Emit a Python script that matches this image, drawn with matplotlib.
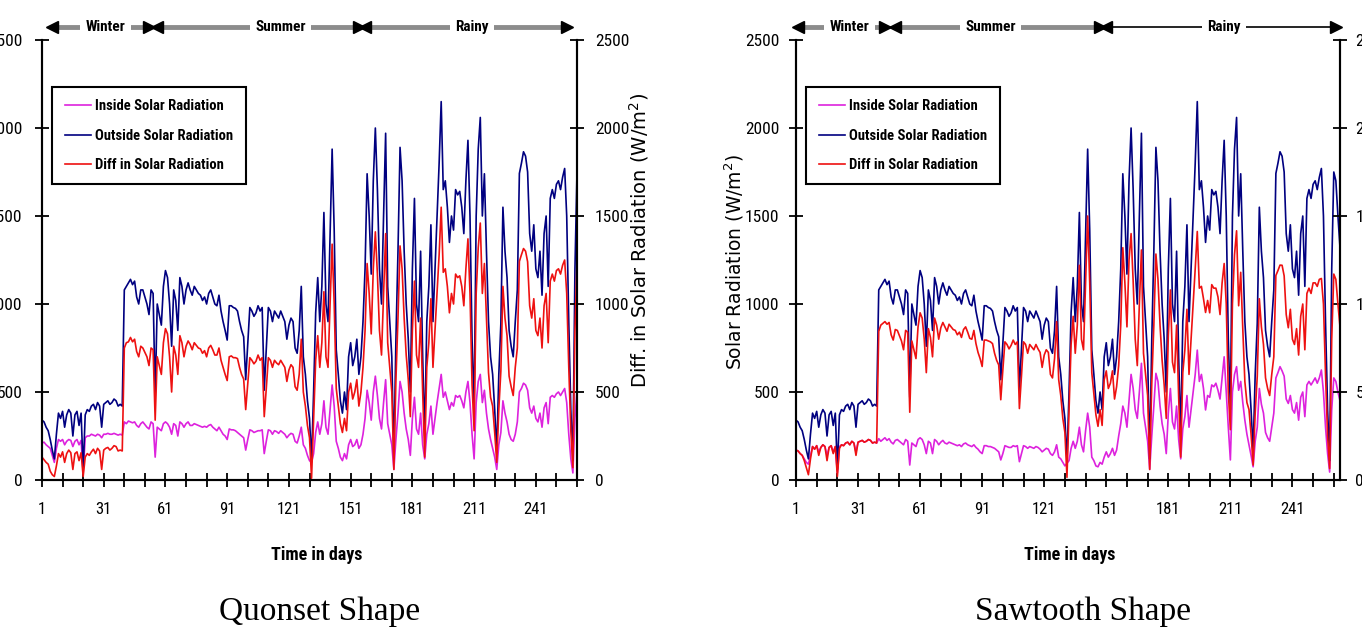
import numpy as np
import matplotlib
matplotlib.use("Agg")
import matplotlib.pyplot as plt
import matplotlib.transforms as mtransforms

plt.rcParams['font.family'] = ['Roboto Condensed', 'DejaVu Sans']

# daily outside solar radiation (W/m2), same for both shapes
outside = [
    340, 330, 300, 280, 230, 170, 120, 260, 380, 350,
    390, 300, 370, 400, 380, 250, 370, 390, 310, 380,
    60, 370, 400, 390, 420, 430, 400, 440, 420, 300,
    430, 440, 450, 430, 440, 460, 450, 420, 430, 420,
    1080, 1100, 1120, 1140, 1110, 1130, 1040, 1000, 1080, 1080,
    1040, 1000, 940, 1080, 1060, 470, 1000, 940, 880, 1100,
    1190, 1150, 1000, 760, 1080, 1020, 850, 1150, 1100, 1000,
    1080, 1120, 1080, 1050, 1100, 1080, 1060, 1050, 1020, 1040,
    1000, 1060, 1080, 1040, 1000, 990, 1050, 960, 900, 850,
    795, 990, 990, 980, 975, 960, 900, 850, 814, 570,
    776, 980, 960, 930, 950, 990, 960, 980, 510, 740,
    980, 960, 900, 960, 940, 920, 960, 930, 900, 800,
    880, 920, 900, 750, 720, 850, 1100, 700, 600, 450,
    350, 110, 500, 950, 1150, 900, 1100, 1520, 1000, 900,
    1400, 1880, 1420, 740, 600, 450, 380, 500, 400, 700,
    780, 650, 700, 800, 600, 700, 900, 1200, 1740, 1500,
    1170, 1700, 2000, 1650, 1200, 1000, 1500, 1970, 1100, 900,
    700, 120, 800, 1300, 1890, 1700, 1300, 1000, 800, 500,
    1200, 1600, 1000, 900, 1300, 700, 250, 900, 1100, 1450,
    900, 1200, 1500, 1800, 2150, 1650, 1700, 1550, 1350, 1500,
    1420, 1650, 1620, 1640, 1550, 1400, 1700, 1930, 1500, 800,
    400, 1500, 1880, 2060, 1500, 1740, 1300, 900, 700, 600,
    400, 160, 600, 890, 1550, 1300, 1150, 850, 760, 700,
    900, 1080, 1742, 1800, 1865, 1840, 1750, 1400, 1300, 1450,
    1200, 1150, 1300, 1050, 1400, 1500, 1100, 1600, 1650, 1600,
    1680, 1700, 1650, 1720, 1770, 1500, 900, 400, 110, 1200,
    1750, 1700, 1500, 1320]

# inside solar radiation, quonset shape
inside_quonset = [
    210, 215, 200, 190, 180, 140, 100, 180, 230, 220,
    230, 200, 220, 230, 225, 190, 220, 230, 200, 225,
    40, 240, 250, 250, 260, 255, 250, 260, 255, 240,
    260, 260, 265, 260, 260, 265, 260, 255, 260, 255,
    330, 320, 335, 330, 325, 330, 310, 300, 320, 330,
    315, 300, 290, 330, 320, 130, 300, 290, 280, 320,
    330, 320, 300, 260, 320, 310, 250, 330, 320, 300,
    320, 330, 310, 310, 320, 315, 310, 305, 300, 305,
    300, 310, 315, 300, 290, 280, 300, 280, 260, 250,
    230, 290, 285, 285, 280, 270, 260, 250, 240, 170,
    230, 285, 280, 270, 275, 280, 280, 285, 150, 220,
    285, 280, 260, 280, 275, 265, 280, 270, 260, 240,
    255, 265, 260, 220, 210, 250, 300, 200, 180, 140,
    110, 100, 150, 270, 330, 260, 320, 450, 300, 260,
    400, 540, 420, 220, 180, 130, 110, 150, 120, 200,
    230, 190, 200, 230, 180, 200, 260, 350, 510, 440,
    340, 500, 590, 480, 350, 290, 440, 570, 320, 260,
    200, 60, 230, 380, 560, 500, 380, 290, 230, 140,
    350, 470, 290, 260, 380, 200, 120, 260, 320, 420,
    260, 350, 440, 520, 600, 470, 500, 450, 400, 440,
    420, 480, 470, 480, 450, 410, 500, 560, 440, 260,
    120, 440, 560, 600, 440, 510, 380, 290, 230, 180,
    130, 60, 200, 270, 450, 380, 330, 260, 230, 220,
    260, 330, 500, 520, 550, 540, 510, 410, 380, 420,
    350, 330, 380, 300, 410, 440, 320, 470, 480, 470,
    490, 500, 480, 500, 520, 440, 260, 120, 40, 350,
    510, 500, 450, 400]

# inside solar radiation, sawtooth shape
inside_sawtooth = [
    170, 165, 150, 140, 120, 100, 90, 140, 190, 175,
    195, 160, 185, 200, 190, 140, 185, 195, 160, 190,
    40, 190, 200, 195, 210, 215, 200, 220, 210, 160,
    215, 220, 225, 215, 220, 230, 225, 210, 215, 210,
    235, 220, 230, 240, 225, 235, 215, 205, 225, 230,
    220, 210, 200, 230, 220, 85, 210, 200, 190, 230,
    240, 230, 200, 150, 220, 210, 150, 230, 220, 200,
    215, 225, 210, 205, 215, 210, 205, 200, 195, 200,
    190, 205, 210, 200, 195, 190, 200, 185, 175, 160,
    150, 195, 195, 190, 190, 185, 180, 170, 160, 114,
    150, 195, 190, 185, 185, 195, 190, 195, 104, 150,
    195, 190, 180, 190, 185, 180, 190, 185, 175, 160,
    170, 180, 175, 150, 140, 160, 200, 130, 120, 100,
    80, 95, 110, 180, 220, 180, 220, 300, 200, 160,
    280, 380, 300, 130, 110, 80, 75, 100, 90, 130,
    160, 130, 150, 180, 140, 170, 250, 320, 420, 380,
    300, 450, 600, 520, 400, 350, 500, 663, 380, 300,
    220, 60, 250, 420, 606, 560, 420, 320, 260, 150,
    380, 520, 330, 290, 420, 230, 120, 290, 360, 480,
    300, 400, 500, 600, 738, 560, 600, 520, 398, 480,
    470, 540, 530, 550, 510, 460, 580, 700, 500, 300,
    114, 500, 600, 644, 510, 560, 440, 340, 260, 200,
    140, 75, 220, 300, 520, 430, 380, 270, 240, 220,
    300, 380, 580, 610, 644, 620, 590, 460, 435, 480,
    400, 380, 440, 340, 470, 500, 360, 540, 560, 540,
    560, 580, 550, 580, 625, 500, 300, 150, 45, 400,
    580, 560, 500, 450]

days = np.arange(1, len(outside) + 1)
# difference = outside - inside
diff_quonset = np.array(outside) - np.array(inside_quonset)
diff_sawtooth = np.array(outside) - np.array(inside_sawtooth)

series_names = ["Inside Solar Radiation", "Outside Solar Radiation", "Diff in Solar Radiation"]
c_in, c_out, c_diff = "#dd22dd", "#000080", "#ee1111"

# season arrows : (name, start day, end day, text day)
seasons_q = [("Winter", 6, 53, 32), ("Summer", 57, 155, 117), ("Rainy", 158, 256, 210)]
seasons_s = [("Winter", 2, 44, 27), ("Summer", 49, 148, 95), ("Rainy", 151, 262, 208)]

fig = plt.figure(figsize=(13.62, 6.37), dpi=100)
W, H = 1362, 637
ax_q = fig.add_axes([42 / W, 157 / H, 535 / W, 440 / H])
ax_s = fig.add_axes([796 / W, 157 / H, 544 / W, 440 / H])


def setup(ax, xmax, lpad):
    ax.set_xlim(1, xmax)
    ax.set_ylim(0, 2500)
    ax.spines['top'].set_visible(False)
    for s in ['left', 'bottom', 'right']:
        ax.spines[s].set_linewidth(1.5)
    ax.set_xticks(range(1, 242, 30))
    ax.set_xticks(range(1, xmax + 1, 10), minor=True)
    ax.set_yticks(range(0, 2501, 500))
    ax.tick_params(axis='both', which='both', direction='inout', length=10, width=1.3, labelsize=12)
    ax.tick_params(axis='y', labelsize=12.5, pad=lpad)
    ax.tick_params(axis='x', pad=11)


def seasons(ax, segs, rainy_black):
    trans = mtransforms.blended_transform_factory(ax.transData, ax.transAxes)
    yh = 1.03
    for name, x0, x1, xt in segs:
        if rainy_black and name == "Rainy":
            col, lw = "black", 1.2
        else:
            col, lw = "#8c8c8c", 3.5
        ax.plot([x0, x1], [yh, yh], color=col, lw=lw, transform=trans, clip_on=False,
                solid_capstyle='butt')
        ax.plot([x0], [yh], marker='<', ms=8, color='black', transform=trans, clip_on=False)
        ax.plot([x1], [yh], marker='>', ms=8, color='black', transform=trans, clip_on=False)
        ax.text(xt, yh, name, transform=trans, ha='center', va='center', fontsize=11,
                fontweight='bold', zorder=5,
                bbox=dict(facecolor='white', edgecolor='none', pad=4))


def draw_chart(ax, inside, diff, xmax, lpad, rpad, seg, rainy_black):
    setup(ax, xmax, lpad)
    h1, = ax.plot(days, inside, color=c_in, lw=1.2)
    h2, = ax.plot(days, outside, color=c_out, lw=1.2)
    axr = ax.twinx()
    axr.set_ylim(0, 2500)
    axr.set_yticks(range(0, 2501, 500))
    axr.spines['top'].set_visible(False)
    for s in ['left', 'bottom', 'right']:
        axr.spines[s].set_linewidth(1.5)
    axr.tick_params(axis='y', direction='inout', length=10, width=1.3, labelsize=12.5, pad=rpad)
    h3, = axr.plot(days, diff, color=c_diff, lw=1.2)
    leg = axr.legend([h1, h2, h3], series_names, loc='upper left',
                     bbox_to_anchor=(0.019, 0.893), borderaxespad=0, fancybox=False,
                     edgecolor='black', framealpha=1, prop={'size': 10.5, 'weight': 'bold'},
                     handlelength=1.8, handletextpad=0.3, labelspacing=1.05, borderpad=0.85)
    leg.get_frame().set_linewidth(1.5)
    seasons(ax, seg, rainy_black)
    return axr


draw_chart(ax_q, inside_quonset, diff_quonset, 261, 9, 8, seasons_q, False)
draw_chart(ax_s, inside_sawtooth, diff_sawtooth, 264, 7, 6, seasons_s, True)

# axis titles
fig.text(639 / W, 1 - 240 / H, "Diff. in Solar Radiation (W/m$^2$)", rotation=90,
         ha='center', va='center', fontsize=14, family='DejaVu Sans')
fig.text(734 / W, 1 - 262 / H, "Solar Radiation (W/m$^2$)", rotation=90,
         ha='center', va='center', fontsize=13.5, family='DejaVu Sans')
fig.text(317 / W, 1 - 555 / H, "Time in days", ha='center', va='center',
         fontsize=13, fontweight='bold')
fig.text(1070 / W, 1 - 555 / H, "Time in days", ha='center', va='center',
         fontsize=13, fontweight='bold')

# shape names
fig.text(320 / W, 1 - 612 / H, "Quonset Shape", ha='center', va='center',
         fontsize=24, family='Liberation Serif')
fig.text(1083 / W, 1 - 612 / H, "Sawtooth Shape", ha='center', va='center',
         fontsize=24, family='Liberation Serif')

fig.savefig("out.png", dpi=100)
